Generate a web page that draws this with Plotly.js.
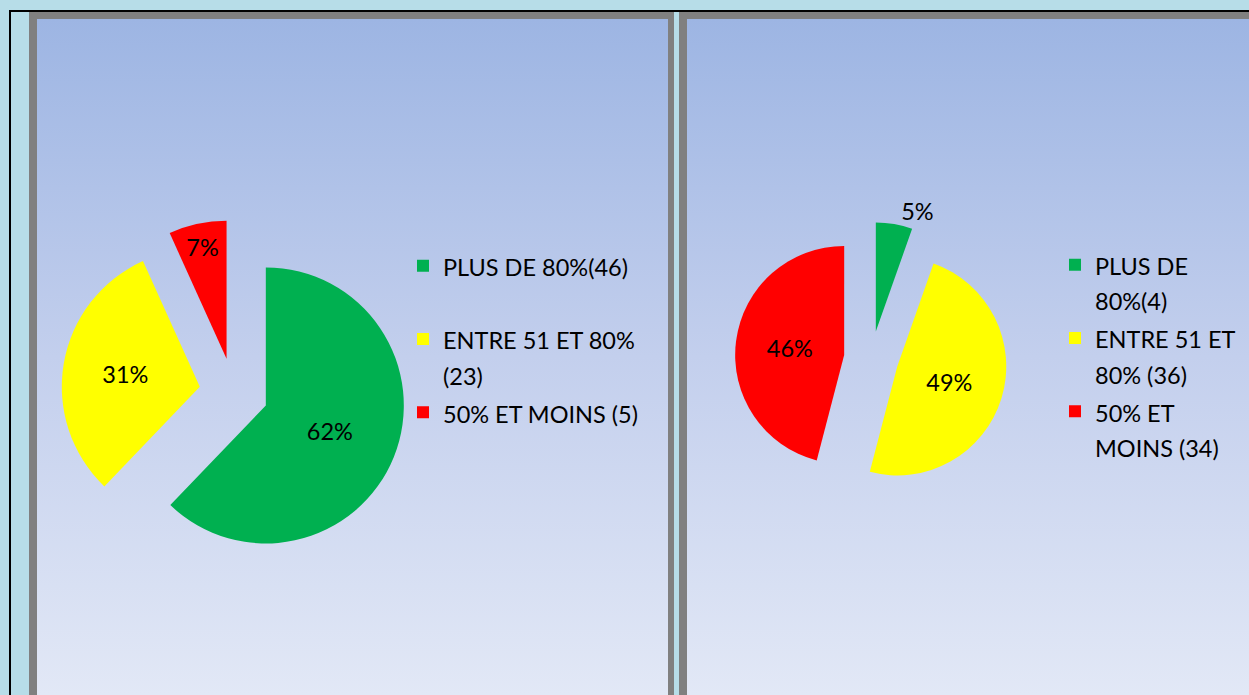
<!DOCTYPE html>
<html>
<head>
<meta charset="utf-8">
<script src="https://cdn.plot.ly/plotly-3.0.1.min.js"></script>
<style>
  html, body { margin: 0; padding: 0; }
  #wrap { position: relative; width: 1249px; height: 695px; overflow: hidden; background: #b7dde8; }
  .blk { position: absolute; background: #000; }
  .frame { position: absolute; background: #808080; }
  .panel { position: absolute; background: linear-gradient(to bottom, #9db5e3 0%, #c3cfed 50%, #e2e8f6 100%); }
  #chart { position: absolute; left: 0; top: 0; width: 1249px; height: 695px; }
</style>
</head>
<body>
<div id="wrap">
  <div class="blk" style="left:9px; top:10px; width:1240px; height:2px;"></div>
  <div class="blk" style="left:9px; top:10px; width:2px; height:685px;"></div>
  <div class="frame" style="left:29px; top:12px; width:645px; height:690px;"></div>
  <div class="panel" style="left:37px; top:19px; width:631px; height:676px;"></div>
  <div class="frame" style="left:679px; top:12px; width:600px; height:690px;"></div>
  <div class="panel" style="left:687px; top:19px; width:600px; height:676px;"></div>
  <div id="chart"></div>
</div>
<script>
// Data
const leftLabels = ['PLUS DE 80%(46)', 'ENTRE 51 ET 80%<br>(23)', '50% ET MOINS (5)'];
const leftValues = [46, 23, 5];
const rightLabels = ['PLUS DE<br>80%(4)', 'ENTRE 51 ET<br>80% (36)', '50% ET<br>MOINS (34)'];
const rightValues = [4, 36, 34];
const sliceColors = ['#00B050', '#FFFF00', '#FF0000'];

const W = 1249, H = 695;
const FONT = 'Lato, "Liberation Sans", Arial, sans-serif';
const FS = 23.5;      // visible text size
const LEG_FS = 27;    // legend base size (sets line pitch)

// legend entries: visible text at FS, padded to two lines for even item pitch
function legendText(lbl) {
  const lines = lbl.split('<br>').map(s => '<span style="font-size:' + FS + 'px">' + s + '</span>');
  while (lines.length < 2) lines.push('\u00a0');
  return lines.join('<br>');
}

const common = {
  type: 'pie',
  sort: false,
  direction: 'clockwise',
  rotation: 0,
  pull: [0.25, 0.25, 0.25],
  marker: { colors: sliceColors, line: { width: 0 } },
  texttemplate: '%{percent:.0%}',
  insidetextorientation: 'horizontal',
  textfont: { family: FONT, size: FS, color: '#000' },
  insidetextfont: { family: FONT, size: FS, color: '#000' },
  outsidetextfont: { family: FONT, size: FS, color: '#000' },
  hoverinfo: 'label+value+percent'
};

const traces = [
  Object.assign({}, common, {
    labels: leftLabels.map(legendText),
    values: leftValues,
    textposition: ['inside', 'inside', 'inside'],
    domain: { x: [61.3 / W, 406.3 / W], y: [1 - 565.1 / H, 1 - 220.1 / H] },
    legend: 'legend'
  }),
  Object.assign({}, common, {
    labels: rightLabels.map(legendText),
    values: rightValues,
    textposition: ['outside', 'inside', 'inside'],
    domain: { x: [734.95 / W, 1007.45 / W], y: [1 - 494.65 / H, 1 - 222.15 / H] },
    legend: 'legend2'
  })
];

const legendBase = {
  xanchor: 'left', yanchor: 'top', valign: 'top',
  font: { family: FONT, size: LEG_FS, color: '#000' },
  bgcolor: 'rgba(0,0,0,0)', borderwidth: 0, traceorder: 'normal'
};

const layout = {
  width: W, height: H, autosize: false,
  margin: { l: 0, r: 0, t: 0, b: 0, pad: 0 },
  paper_bgcolor: 'rgba(0,0,0,0)',
  plot_bgcolor: 'rgba(0,0,0,0)',
  showlegend: true,
  uniformtext: { mode: 'show', minsize: FS },
  legend: Object.assign({}, legendBase, { x: 403 / W, y: 1 - 241.7 / H }),
  legend2: Object.assign({}, legendBase, { x: 1055 / W, y: 1 - 240.7 / H })
};

Plotly.newPlot('chart', traces, layout, { displayModeBar: false, staticPlot: true });
</script>
</body>
</html>
